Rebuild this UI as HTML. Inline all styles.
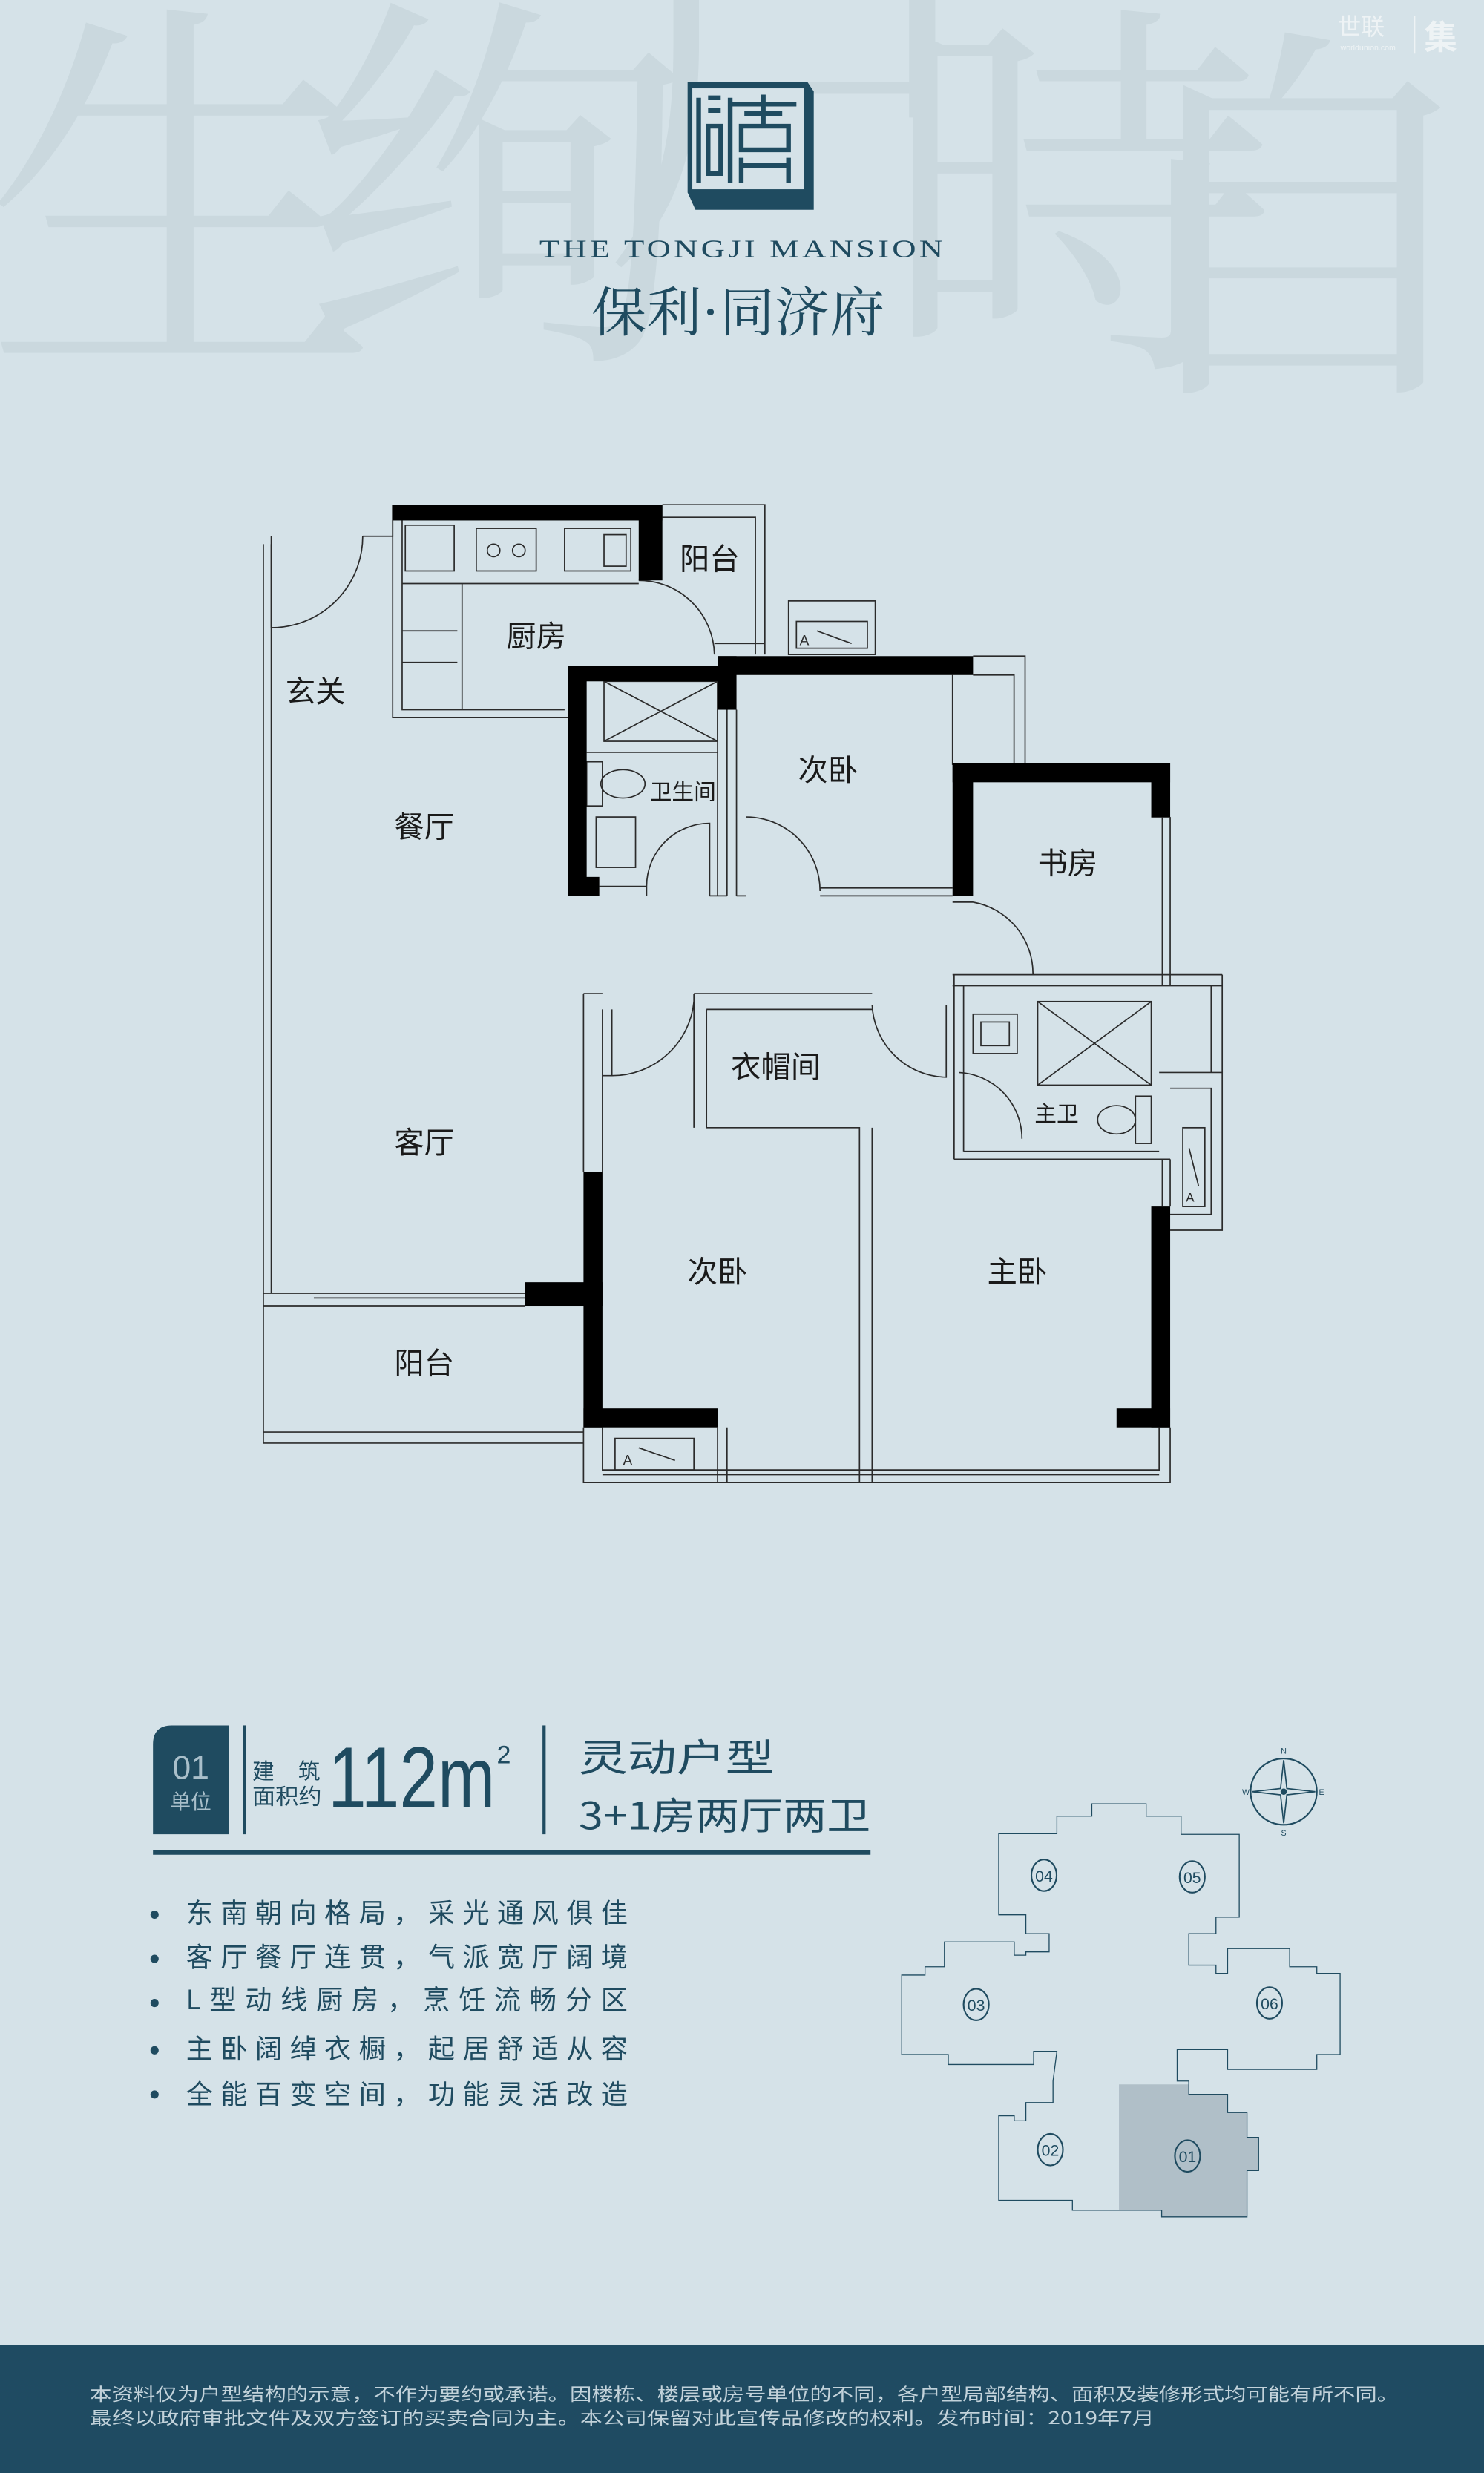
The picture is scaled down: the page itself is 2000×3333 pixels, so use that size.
<!DOCTYPE html>
<html><head><meta charset="utf-8"><style>
html,body{margin:0;padding:0;background:#d5e2e8;}
svg{display:block;font-family:"Liberation Sans","Noto Sans CJK SC",sans-serif;}
</style></head><body>
<svg width="2000" height="3333" viewBox="0 0 941 1568" preserveAspectRatio="none" xmlns="http://www.w3.org/2000/svg">
<rect x="0" y="0" width="941" height="1568" fill="#d5e2e8"/>
<!-- watermark characters -->
<g fill="#cad8de" font-family="'Noto Serif CJK SC',serif" font-size="250">
<text x="-10" y="215">生</text>
<text x="190" y="210">绚</text>
<text x="380" y="150">户</text>
<text x="560" y="215">時</text>
<text x="700" y="230">自</text>
</g>
<text x="848" y="22" fill="#eef3f5" font-size="15" font-family="'Noto Sans CJK SC',sans-serif">世联</text>
<line x1="897" y1="10" x2="897" y2="34" stroke="#eef3f5" stroke-width="0.8"/>
<text x="903" y="31" fill="#eef3f5" font-size="21" font-weight="bold" font-family="'Noto Sans CJK SC',sans-serif">集</text>
<text x="850" y="32" fill="#eef3f5" font-size="5">worldunion.com</text>
<!-- logo -->
<polygon points="436,52 512,52 516,58 516,133 441,133 436,122" fill="#1f4b60"/>
<rect x="439" y="56" width="71" height="64" fill="#d5e2e8"/>
<g stroke="#1f4b60" stroke-width="3" fill="none">
<path d="M443,62 V116 M449,62 H457 M449,70 H457 M449,80 V110 H457 V80 Z M463,62 V116 M463,66 H505 M472,72 H496 M470,80 H500 V95 H470 Z M470,100 V116 M500,100 V116 M470,105 H500 M484,60 V80"/>
</g>
<text x="471" y="163" text-anchor="middle" fill="#1f4b60" font-size="16" font-family="'Liberation Serif',serif" letter-spacing="1.5" textLength="258" lengthAdjust="spacingAndGlyphs">THE TONGJI MANSION</text>
<text x="468" y="210" text-anchor="middle" fill="#1f4b60" font-size="34" font-family="'Noto Serif CJK SC',serif" textLength="186" lengthAdjust="spacingAndGlyphs">保利·同济府</text>

<!-- floor plan -->
<g stroke="#2b2b2b" stroke-width="0.8" fill="none">
<path d="M167,345 V915 M172,345 V820 M167,820 H333 M167,828 H333 M167,915 H370 M167,908 H370 M199,823 H333"/>
<path d="M172,340 V398 M230,340 H249 V320"/>
<path d="M172,398 A58,58 0 0 0 230,340"/>
<path d="M249,320 V455 H360 M255,330 V450 H358 M255,370 H405 M293,370 V450 M255,400 H290 M255,420 H290"/>
<rect x="257" y="333" width="31" height="29"/>
<rect x="302" y="335" width="38" height="27"/>
<circle cx="313" cy="349" r="4"/><circle cx="329" cy="349" r="4"/>
<rect x="358" y="335" width="42" height="27"/>
<rect x="383" y="339" width="14" height="20"/>
<path d="M405,368 A48,48 0 0 1 453,415"/>
<path d="M420,320 H485 V415 M420,328 H479 V415 M453,408 H485"/>
<rect x="500" y="381" width="55" height="34"/>
<rect x="505" y="394" width="45" height="17"/>
<text x="507" y="409" font-size="9" fill="#2b2b2b" stroke="none">A</text>
<path d="M518,400 L540,408"/>
<rect x="383" y="432" width="72" height="38"/>
<path d="M383,432 L455,470 M455,432 L383,470 M372,477 H455 M455,432 V568 M461,432 V568 M380,562 H410 M450,568 H461"/>
<rect x="372" y="483" width="10" height="28"/>
<ellipse cx="395" cy="497" rx="14" ry="9"/>
<rect x="378" y="518" width="25" height="32"/>
<path d="M410,568 V562 M410,562 A40,40 0 0 1 450,522 V568"/>
<path d="M467,450 V568 M467,568 H473 M473,518 A47,47 0 0 1 520,565 M520,563 H604 M520,568 H604"/>
<path d="M617,416 H650 V485 M617,428 H643 V485 M604,428 V485"/>
<path d="M617,572 A46,46 0 0 1 655,618 M617,572 H604 M737,518 V625 M742,518 V625 M730,518 H742 M604,618 H775 M604,625 H775"/>
<path d="M605,618 V735 M611,625 V730 M605,735 H742 M611,730 H735 M775,618 V680 M768,625 V680"/>
<rect x="658" y="635" width="72" height="53"/>
<path d="M658,635 L730,688 M730,635 L658,688"/>
<rect x="617" y="643" width="28" height="25"/><rect x="622" y="648" width="18" height="15"/>
<rect x="720" y="695" width="10" height="30"/>
<ellipse cx="708" cy="710" rx="12" ry="9"/>
<path d="M608,680 A42,42 0 0 1 648,722"/>
<path d="M735,680 H775 V780 H742 M742,690 H768 V770 H742"/>
<rect x="750" y="715" width="14" height="50"/>
<text x="752" y="762" font-size="8" fill="#2b2b2b" stroke="none">A</text>
<path d="M754,728 L760,752"/>
<path d="M737,735 V765 M742,735 V765"/>
<path d="M370,630 V743 M382,640 V743 M370,630 H382 M382,682 H388 V640"/>
<path d="M388,682 A52,52 0 0 0 440,635"/>
<path d="M440,630 H553 M440,630 V715 M448,640 H553 M448,640 V715 H545 V905 M553,715 V940 M545,905 V940"/>
<path d="M553,637 A48,48 0 0 0 600,683 V637"/>
<path d="M370,905 V940 H742 V905 M382,905 V932 H735 V905 M455,905 V940 M461,905 V940 M382,935 H735"/>
<rect x="390" y="912" width="50" height="20"/>
<text x="395" y="929" font-size="9" fill="#2b2b2b" stroke="none">A</text>
<path d="M405,918 L428,926"/>
</g>
<g fill="#000">
<rect x="249" y="320" width="171" height="10"/>
<rect x="405" y="320" width="15" height="48"/>
<rect x="360" y="422" width="12" height="146"/>
<rect x="360" y="422" width="105" height="10"/>
<rect x="360" y="556" width="20" height="12"/>
<rect x="455" y="416" width="162" height="12"/>
<rect x="455" y="416" width="12" height="34"/>
<rect x="604" y="484" width="13" height="84"/>
<rect x="604" y="484" width="138" height="12"/>
<rect x="730" y="484" width="12" height="34"/>
<rect x="370" y="743" width="12" height="162"/>
<rect x="333" y="813" width="49" height="15"/>
<rect x="370" y="893" width="85" height="12"/>
<rect x="730" y="765" width="12" height="140"/>
<rect x="708" y="893" width="34" height="12"/>
</g>
<g fill="#1a1a1a" font-size="19" font-family="'Noto Sans CJK SC',sans-serif">
<text x="200" y="445" text-anchor="middle">玄关</text>
<text x="340" y="410" text-anchor="middle">厨房</text>
<text x="450" y="361" text-anchor="middle">阳台</text>
<text x="433" y="507" text-anchor="middle" font-size="14">卫生间</text>
<text x="525" y="495" text-anchor="middle">次卧</text>
<text x="269" y="531" text-anchor="middle">餐厅</text>
<text x="677" y="554" text-anchor="middle">书房</text>
<text x="492" y="683" text-anchor="middle">衣帽间</text>
<text x="670" y="711" text-anchor="middle" font-size="14">主卫</text>
<text x="269" y="731" text-anchor="middle">客厅</text>
<text x="455" y="813" text-anchor="middle">次卧</text>
<text x="645" y="813" text-anchor="middle">主卧</text>
<text x="269" y="871" text-anchor="middle">阳台</text>
</g>

<!-- info block -->
<path d="M97,1163 V1106 Q97,1094 109,1094 H145 V1163 Z" fill="#1f4b60"/>
<text x="121" y="1128" text-anchor="middle" fill="#a9bfca" font-size="21">01</text>
<text x="121" y="1147" text-anchor="middle" fill="#a9bfca" font-size="13" font-family="'Noto Sans CJK SC',sans-serif">单位</text>
<rect x="154" y="1094" width="2" height="69" fill="#1f4b60"/>
<text x="160" y="1128" fill="#1f4b60" font-size="14" font-family="'Noto Sans CJK SC',sans-serif">建</text>
<text x="189" y="1128" fill="#1f4b60" font-size="14" font-family="'Noto Sans CJK SC',sans-serif">筑</text>
<text x="160" y="1144" fill="#1f4b60" font-size="14" font-family="'Noto Sans CJK SC',sans-serif" textLength="44" lengthAdjust="spacingAndGlyphs">面积约</text>
<text x="208" y="1146" fill="#1f4b60" font-size="55" textLength="106" lengthAdjust="spacingAndGlyphs">112m</text>
<text x="315" y="1118" fill="#1f4b60" font-size="16">2</text>
<rect x="344" y="1094" width="2" height="69" fill="#1f4b60"/>
<text x="367" y="1123" fill="#1f4b60" font-size="24" font-family="'Noto Sans CJK SC',sans-serif" textLength="124" lengthAdjust="spacingAndGlyphs">灵动户型</text>
<text x="367" y="1160" fill="#1f4b60" font-size="24" font-family="'Noto Sans CJK SC',sans-serif" textLength="185" lengthAdjust="spacingAndGlyphs">3+1房两厅两卫</text>
<rect x="97" y="1173" width="455" height="3" fill="#1f4b60"/>
<g fill="#1f4b60" font-size="17" font-family="'Noto Sans CJK SC',sans-serif">
<circle cx="98" cy="1214" r="2.6"/><text x="118" y="1219" textLength="280" lengthAdjust="spacing">东南朝向格局，采光通风俱佳</text>
<circle cx="98" cy="1242" r="2.6"/><text x="118" y="1247" textLength="280" lengthAdjust="spacing">客厅餐厅连贯，气派宽厅阔境</text>
<circle cx="98" cy="1270" r="2.6"/><text x="118" y="1274" textLength="280" lengthAdjust="spacing">L型动线厨房，烹饪流畅分区</text>
<circle cx="98" cy="1300" r="2.6"/><text x="118" y="1305" textLength="280" lengthAdjust="spacing">主卧阔绰衣橱，起居舒适从容</text>
<circle cx="98" cy="1328" r="2.6"/><text x="118" y="1334" textLength="280" lengthAdjust="spacing">全能百变空间，功能灵活改造</text>
</g>

<!-- key plan -->
<g transform="translate(84.7,1082.2) scale(0.492,0.21)">
<polygon points="1270,1140 1360,1140 1360,1170 1410,1170 1410,1225 1435,1225 1435,1300 1450,1300 1450,1400 1435,1400 1435,1540 1325,1540 1325,1520 1270,1520" fill="#b0bfc8"/>
<polygon fill="none" stroke="#1f4b60" stroke-width="1.3" vector-effect="non-scaling-stroke" points="1115,383 1190,383 1190,330 1235,330 1235,293 1305,293 1305,330 1350,330 1350,385 1425,385 1425,635 1395,635 1395,685 1360,685 1360,780 1395,780 1395,805 1410,805 1410,730 1490,730 1490,785 1525,785 1525,805 1555,805 1555,1050 1525,1050 1525,1095 1410,1095 1410,1035 1345,1035 1345,1130 1360,1130 1360,1170 1410,1170 1410,1225 1435,1225 1435,1300 1450,1300 1450,1400 1435,1400 1435,1540 1325,1540 1325,1520 1210,1520 1210,1490 1115,1490 1115,1235 1135,1235 1135,1250 1150,1250 1150,1195 1185,1195 1185,1130 1190,1040 1160,1040 1160,1080 1050,1080 1050,1050 990,1050 990,810 1020,810 1020,785 1045,785 1045,710 1135,710 1135,750 1150,750 1150,740 1180,740 1180,685 1150,685 1150,628 1115,628"/>
</g>
<g fill="none" stroke="#1f4b60" stroke-width="1">
<ellipse cx="662" cy="1189" rx="8" ry="10"/><ellipse cx="756" cy="1190" rx="8" ry="10"/>
<ellipse cx="619" cy="1271" rx="8" ry="10"/><ellipse cx="805" cy="1270" rx="8" ry="10"/>
<ellipse cx="666" cy="1363" rx="8" ry="10"/><ellipse cx="753" cy="1367" rx="8" ry="10"/>
<circle cx="814" cy="1136" r="21"/>
</g>
<g fill="#1f4b60" font-size="10" text-anchor="middle">
<text x="662" y="1193">04</text><text x="756" y="1194">05</text>
<text x="619" y="1275">03</text><text x="805" y="1274">06</text>
<text x="666" y="1367">02</text><text x="753" y="1371">01</text>
<text x="814" y="1112" font-size="5">N</text><text x="814" y="1164" font-size="5">S</text>
<text x="790" y="1138" font-size="5">W</text><text x="838" y="1138" font-size="5">E</text>
</g>
<polygon points="814,1116 816,1134 834,1136 816,1138 814,1156 812,1138 794,1136 812,1134" fill="none" stroke="#1f4b60" stroke-width="0.8"/>
<circle cx="814" cy="1136" r="2" fill="#1f4b60"/>

<!-- footer -->
<rect x="0" y="1487" width="941" height="81" fill="#1f4b62"/>
<g fill="#c2d2da" font-size="11" font-family="'Noto Sans CJK SC',sans-serif">
<text x="57" y="1522" textLength="830" lengthAdjust="spacingAndGlyphs">本资料仅为户型结构的示意，不作为要约或承诺。因楼栋、楼层或房号单位的不同，各户型局部结构、面积及装修形式均可能有所不同。</text>
<text x="57" y="1537" textLength="675" lengthAdjust="spacingAndGlyphs">最终以政府审批文件及双方签订的买卖合同为主。本公司保留对此宣传品修改的权利。发布时间：2019年7月</text>
</g>
</svg>
</body></html>
